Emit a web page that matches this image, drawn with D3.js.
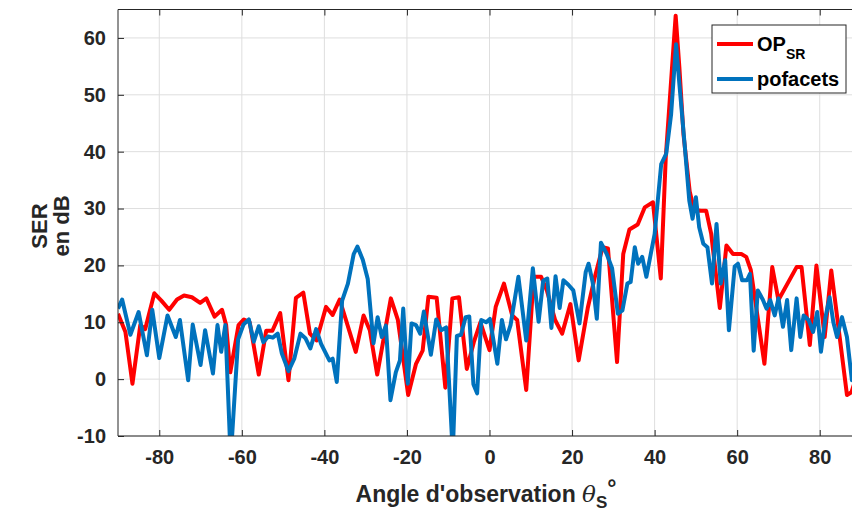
<!DOCTYPE html>
<html>
<head>
<meta charset="utf-8">
<script src="https://cdn.jsdelivr.net/npm/d3@7"></script>
<style>
  body { margin: 0; background: #fff; }
  svg { display: block; font-family: "Liberation Sans", Arial, sans-serif; }
</style>
</head>
<body>
<svg id="chart" width="852" height="515"></svg>
<script>
// angles (deg) and SER (dB)
var redAngles = [-90, -88.2, -86.5, -84.6, -83.4, -81.2, -79.5, -77.6, -75.7, -74, -72.1, -70.1, -68.6, -66.6, -64.8, -63.8, -62.8, -60.8, -59.5, -58.1, -55.9, -54.1, -52.6, -50.7, -48.7, -46.9, -45.1, -43.5, -41.9, -39.6, -38, -36.3, -32.4, -30.5, -29, -27.2, -23.9, -22.2, -19.7, -17.8, -16.2, -14.8, -12.8, -10.7, -9, -7.4, -5.5, -3.8, -2.2, 0, 1.5, 3.5, 5.5, 6.7, 8.9, 10.7, 12.5, 13.9, 15.9, 17.6, 19.6, 21.6, 23.8, 25.6, 27.4, 28.7, 30.9, 32.4, 33.9, 35.9, 37.6, 39.6, 41.5, 42.7, 45.1, 46, 47, 48.5, 49.5, 51, 52.5, 53.7, 55.8, 57.4, 59, 61, 62.2, 63.3, 66.6, 68.5, 70, 74.4, 75.6, 77.6, 79.2, 81.2, 82.8, 86.6, 87.7, 90];
var redValues = [11.5, 8.3, -0.8, 9.5, 8.8, 15.1, 13.8, 12.2, 14, 14.7, 14.4, 13.4, 14.2, 11, 12.2, 9.5, 1.2, 9.5, 10.5, 10, 0.8, 8.5, 8.5, 11.6, -0.2, 14.3, 15.2, 8, 6.8, 12.7, 11.3, 14, 4.8, 11.2, 8.6, 0.8, 14.2, 10.4, -2.8, 2.7, 5, 14.5, 14.3, -1.5, 14.2, 14.4, 1.8, 6.5, 10, 5.1, 12.7, 16.8, 11.2, 10.4, -1.9, 18, 18, 15.6, 10.4, 8, 13.2, 3.3, 12.5, 18.2, 23.2, 23, 3, 22, 26.3, 27.2, 30.2, 31.1, 17.7, 39, 63.9, 54.8, 43, 33, 30, 29.6, 29.6, 25.6, 12.5, 23.5, 22, 22, 21.5, 19.2, 2.7, 19.7, 13.9, 19.7, 19.7, 6, 20, 7.4, 19.1, -2.8, -2.3, 3];

var blueAngles = [-90, -89, -87, -85, -83, -81.7, -80, -78, -76, -75, -73, -71.9, -70, -68.9, -67, -65.9, -65, -64, -62.7, -60.9, -59.6, -58.3, -57.1, -55.9, -54.8, -53.6, -52.5, -51.3, -50.3, -48.7, -47.3, -45.8, -44.6, -43.4, -42, -40.8, -38.8, -38, -37, -35.7, -34.3, -32.9, -32, -30.7, -29.5, -28.1, -27.1, -26.1, -25.1, -24, -22.7, -21.7, -20.9, -19.8, -18.9, -17.8, -16.8, -15.9, -14.2, -12.9, -11.7, -10.5, -8.9, -7.9, -6.9, -5.8, -4.9, -3.9, -3, -2, -0.8, 0.1, 1.9, 3, 4, 5.1, 7, 8.9, 10.5, 11.9, 13, 14, 15, 16, 17, 17.9, 19.1, 20.3, 21.8, 23.3, 24, 25, 26, 27, 28.4, 29.7, 31.1, 32.2, 33.4, 34.2, 35.2, 36, 37, 38, 40, 41.6, 42.8, 44, 45.2, 46, 47.2, 48.4, 49.2, 50, 50.8, 51.8, 52.8, 53.9, 55, 56, 57.1, 58, 59.4, 60.2, 61.2, 62.4, 63.1, 64, 65, 66.2, 67.1, 68, 69.1, 70, 71.1, 72.1, 73.1, 74.4, 75.3, 76.1, 77.3, 78.4, 79.4, 80.3, 81.4, 82.4, 83.3, 84.2, 85.4, 86.6, 87.8, 90];
var blueValues = [12.4, 14, 7.8, 11.8, 4.2, 12.2, 3.7, 11.2, 7.4, 10.4, -0.2, 9.6, 2.5, 8.6, 1, 9.5, 4.8, 9.5, -14, 7, 9.6, 10.5, 6.6, 9.3, 6.5, 7.5, 7.3, 8, 4.5, 1.4, 3.6, 8, 7.2, 5.4, 8.8, 6.2, 3.3, 3.6, -0.5, 13.8, 16.8, 22, 23.3, 21, 17.6, 6.3, 10.9, 7.4, 9.4, -3.7, 1.2, 3.3, 12.4, -0.8, 9.8, 9.5, 8, 11.9, 4.3, 10.5, 8.6, 9.1, -13, 7.6, 7.8, 10.9, 11, -0.9, -2.5, 10.4, 10, 10.6, 2.7, 10.4, 7, 9.5, 18, 6.8, 19.5, 10.1, 17.3, 17.7, 9, 18.1, 12.5, 17.4, 16.6, 15.6, 9.8, 18.8, 20.3, 17, 10.6, 24, 22, 19.5, 11.5, 12.1, 16.8, 17.1, 23.2, 20.3, 21.5, 18, 25.5, 37.8, 39.6, 46.6, 58.9, 51.9, 41.9, 31.4, 28.2, 32, 26.7, 23.8, 23.2, 16.8, 27.3, 16.8, 20.9, 8.6, 19.8, 20.3, 17.4, 17.4, 18.5, 5, 15.6, 14, 12.4, 13.9, 11.2, 14.2, 9.2, 13.9, 5.1, 14.2, 7.4, 11.2, 10.4, 8.3, 11.8, 4.8, 10.9, 14.4, 10, 7.4, 10.9, 7.4, -0.2, 3];

var xTicks = [-80, -60, -40, -20, 0, 20, 40, 60, 80];
var yTicks = [-10, 0, 10, 20, 30, 40, 50, 60];
var seriesNames = ["OP", "pofacets"];
var seriesColors = ["#ff0000", "#0072bd"];

var svg = d3.select("#chart");

var mLeft = 118, mRight = 861, mTop = 9.5, mBottom = 436;

var x = d3.scaleLinear().domain([-90, 90]).range([mLeft, mRight]);
var y = d3.scaleLinear().domain([-10, 65]).range([mBottom, mTop]);

svg.append("defs").append("clipPath").attr("id", "plotclip")
    .append("rect").attr("x", mLeft).attr("y", mTop)
    .attr("width", mRight - mLeft).attr("height", mBottom - mTop);

// grid
var grid = svg.append("g");
grid.selectAll("line.gx").data(xTicks).enter().append("line")
    .attr("x1", function (d) { return x(d); }).attr("x2", function (d) { return x(d); })
    .attr("y1", mTop).attr("y2", mBottom)
    .attr("stroke", "#dedede").attr("stroke-width", 1);
grid.selectAll("line.gy").data(yTicks).enter().append("line")
    .attr("x1", mLeft).attr("x2", mRight)
    .attr("y1", function (d) { return y(d); }).attr("y2", function (d) { return y(d); })
    .attr("stroke", "#dedede").attr("stroke-width", 1);

// lines
var line = d3.line()
    .x(function (d) { return x(d[0]); })
    .y(function (d) { return y(d[1]); });

var redData = d3.zip(redAngles, redValues);
var blueData = d3.zip(blueAngles, blueValues);

var plot = svg.append("g").attr("clip-path", "url(#plotclip)");
plot.append("path").datum(redData)
    .attr("d", line).attr("fill", "none")
    .attr("stroke", seriesColors[0]).attr("stroke-width", 4)
    .attr("stroke-linejoin", "round");
plot.append("path").datum(blueData)
    .attr("d", line).attr("fill", "none")
    .attr("stroke", seriesColors[1]).attr("stroke-width", 4)
    .attr("stroke-linejoin", "round");

// axes (matlab style, ticks inside)
var axisColor = "#262626";
var fmt = function (d) { return String(d); };
svg.append("g").attr("transform", "translate(0," + mBottom + ")")
    .call(d3.axisBottom(x).tickValues(xTicks).tickSize(-6).tickPadding(14).tickFormat(fmt))
    .call(function (g) { g.select(".domain").remove(); });
svg.append("g").attr("transform", "translate(0," + mTop + ")")
    .call(d3.axisTop(x).tickValues(xTicks).tickSize(-6).tickFormat(""))
    .call(function (g) { g.select(".domain").remove(); });
svg.append("g").attr("transform", "translate(" + mLeft + ",0)")
    .call(d3.axisLeft(y).tickValues(yTicks).tickSize(-6).tickPadding(12).tickFormat(fmt))
    .call(function (g) { g.select(".domain").remove(); });

svg.selectAll(".tick line").attr("stroke", axisColor);
svg.selectAll(".tick text")
    .attr("fill", axisColor)
    .style("font-family", "'Liberation Sans', Arial, sans-serif")
    .style("font-size", "20px")
    .style("font-weight", "bold");

// frame
svg.append("line").attr("x1", mLeft).attr("x2", mLeft).attr("y1", mTop).attr("y2", mBottom)
    .attr("stroke", axisColor).attr("stroke-width", 1);
svg.append("line").attr("x1", mLeft).attr("x2", mRight).attr("y1", mTop).attr("y2", mTop)
    .attr("stroke", axisColor).attr("stroke-width", 1);
svg.append("line").attr("x1", mLeft).attr("x2", mRight).attr("y1", mBottom).attr("y2", mBottom)
    .attr("stroke", axisColor).attr("stroke-width", 1);

// y label
var ylab = svg.append("text")
    .attr("transform", "translate(47,226) rotate(-90)")
    .attr("text-anchor", "middle")
    .style("font-size", "22px").style("font-weight", "bold").attr("fill", axisColor);
ylab.append("tspan").attr("x", 0).attr("dy", 0).text("SER");
ylab.append("tspan").attr("x", 0).attr("dy", 22).text("en dB");

// x label
var xlab = svg.append("text")
    .attr("x", 486).attr("y", 502)
    .attr("text-anchor", "middle")
    .style("font-size", "23px").style("font-weight", "bold").attr("fill", axisColor);
xlab.append("tspan").text("Angle d'observation ");
xlab.append("tspan").style("font-style", "italic").style("font-weight", "normal")
    .style("font-family", "'DejaVu Serif', serif").text("θ");
xlab.append("tspan").attr("dy", 6).style("font-size", "17px").text("S");
xlab.append("tspan").attr("dy", -12).text("°");

// legend
var legend = svg.append("g").attr("transform", "translate(712,25)");
legend.append("rect").attr("width", 134).attr("height", 68)
    .attr("fill", "#fff").attr("stroke", axisColor).attr("stroke-width", 1);
legend.selectAll("line.leg").data(seriesColors).enter().append("line")
    .attr("x1", 5).attr("x2", 41)
    .attr("y1", function (d, i) { return 19 + i * 35; })
    .attr("y2", function (d, i) { return 19 + i * 35; })
    .attr("stroke", function (d) { return d; }).attr("stroke-width", 4);
var t1 = legend.append("text").attr("x", 45).attr("y", 26)
    .style("font-size", "20px").style("font-weight", "bold").attr("fill", "#000");
t1.append("tspan").text(seriesNames[0]);
t1.append("tspan").attr("dy", 8).style("font-size", "14px").text("SR");
legend.append("text").attr("x", 45).attr("y", 61)
    .style("font-size", "20px").style("font-weight", "bold").attr("fill", "#000")
    .text(seriesNames[1]);
</script>
</body>
</html>
